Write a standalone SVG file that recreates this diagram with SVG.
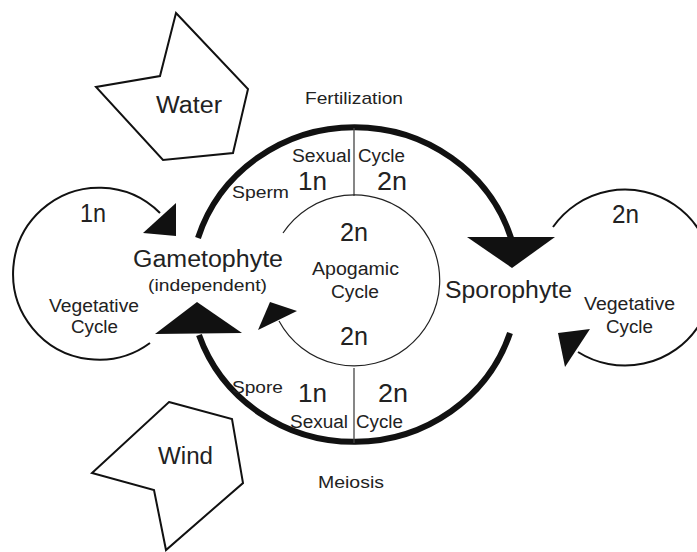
<svg xmlns="http://www.w3.org/2000/svg" width="697" height="552" viewBox="0 0 697 552">
<style>
text{font-family:"Liberation Sans",Arial,sans-serif;fill:#222;}
.big{font-size:23px;}
.mid{font-size:18px;}
.sm{font-size:17px;}
.ploidy{font-size:25px;}
.thick{fill:none;stroke:#111;stroke-width:6;}
.veg{fill:none;stroke:#111;stroke-width:2;}
.thin{fill:none;stroke:#222;stroke-width:1.2;}
.div{stroke:#444;stroke-width:1.3;}
.head{fill:#111;stroke:none;}
.poly{fill:#fff;stroke:#111;stroke-width:2;stroke-linejoin:miter;}
</style>
<rect width="697" height="552" fill="#fff"/>

<g id="water">
<polygon class="poly" points="176,13 248,89 233,153 163,160 96,87 160,76"/>
<text class="big" x="156" y="113" font-size="24" textLength="66" lengthAdjust="spacingAndGlyphs">Water</text>
</g>

<g id="wind">
<polygon class="poly" points="169,402 232,419 243,483 166,550 154,490 92,473"/>
<text class="big" x="158" y="464" textLength="55" lengthAdjust="spacingAndGlyphs">Wind</text>
</g>

<g id="connectors">
<!-- big sexual cycle arcs -->
<path class="thick" d="M198,238 A164,158 0 0 1 511,238"/>
<path class="thick" d="M199,335 A164,158 0 0 0 510,333"/>
<!-- dividers -->
<line class="div" x1="354" y1="128" x2="354" y2="196"/>
<line class="div" x1="354" y1="368" x2="354" y2="443"/>
<!-- apogamic cycle -->
<path class="thin" d="M283,233 A85.5,85.5 0 1 1 279,321"/>
<!-- vegetative cycles -->
<path class="veg" d="M150,343 A86,86 0 1 1 160,213"/>
<path class="veg" d="M553,227 A88,88 0 1 1 578,352"/>
<!-- arrowheads -->
<polygon class="head" points="467,237 555,237 512,268"/>
<polygon class="head" points="155,334 242,333 197,302"/>
<polygon class="head" points="270,302 297,311 258,330"/>
<polygon class="head" points="143,233 176,203 176,236"/>
<polygon class="head" points="558,333 590,329 565,367"/>
</g>

<g id="fertilization">
<text class="sm" x="305" y="104" font-size="17.5" textLength="98" lengthAdjust="spacingAndGlyphs">Fertilization</text>
</g>
<g id="meiosis">
<text class="sm" x="318" y="488" font-size="17.5" textLength="66" lengthAdjust="spacingAndGlyphs">Meiosis</text>
</g>

<g id="sexual-cycle-top">
<text class="mid" x="292" y="162" textLength="59" lengthAdjust="spacingAndGlyphs">Sexual</text>
<text class="mid" x="358" y="162" textLength="47" lengthAdjust="spacingAndGlyphs">Cycle</text>
<text class="ploidy" x="298" y="190" textLength="29" lengthAdjust="spacingAndGlyphs">1n</text>
<text class="ploidy" x="377" y="190" textLength="30" lengthAdjust="spacingAndGlyphs">2n</text>
<text class="sm" x="232" y="198" font-size="16.5" textLength="57" lengthAdjust="spacingAndGlyphs">Sperm</text>
</g>

<g id="sexual-cycle-bottom">
<text class="sm" x="232" y="393" textLength="51" lengthAdjust="spacingAndGlyphs">Spore</text>
<text class="ploidy" x="298" y="402" textLength="29" lengthAdjust="spacingAndGlyphs">1n</text>
<text class="ploidy" x="378" y="402" textLength="30" lengthAdjust="spacingAndGlyphs">2n</text>
<text class="mid" x="290" y="428" textLength="58" lengthAdjust="spacingAndGlyphs">Sexual</text>
<text class="mid" x="356" y="428" textLength="47" lengthAdjust="spacingAndGlyphs">Cycle</text>
</g>

<g id="gametophyte">
<text class="big" x="133" y="267" textLength="150" lengthAdjust="spacingAndGlyphs">Gametophyte</text>
<text class="sm" x="148" y="291" textLength="119" lengthAdjust="spacingAndGlyphs">(independent)</text>
</g>

<g id="gametophyte-vegetative-cycle">
<text class="ploidy" x="80" y="222" textLength="26" lengthAdjust="spacingAndGlyphs">1n</text>
<text class="mid" x="49" y="312" textLength="90" lengthAdjust="spacingAndGlyphs">Vegetative</text>
<text class="mid" x="71" y="333" textLength="47" lengthAdjust="spacingAndGlyphs">Cycle</text>
</g>

<g id="apogamic-cycle">
<text class="ploidy" x="340" y="241" textLength="28" lengthAdjust="spacingAndGlyphs">2n</text>
<text class="mid" x="312" y="275" textLength="87" lengthAdjust="spacingAndGlyphs">Apogamic</text>
<text class="mid" x="331" y="298" textLength="48" lengthAdjust="spacingAndGlyphs">Cycle</text>
<text class="ploidy" x="340" y="345" textLength="28" lengthAdjust="spacingAndGlyphs">2n</text>
</g>

<g id="sporophyte">
<text class="big" x="445" y="298" textLength="127" lengthAdjust="spacingAndGlyphs">Sporophyte</text>
</g>

<g id="sporophyte-vegetative-cycle">
<text class="ploidy" x="612" y="223" textLength="27" lengthAdjust="spacingAndGlyphs">2n</text>
<text class="mid" x="584" y="310" textLength="91" lengthAdjust="spacingAndGlyphs">Vegetative</text>
<text class="mid" x="606" y="333" textLength="47" lengthAdjust="spacingAndGlyphs">Cycle</text>
</g>
</svg>
